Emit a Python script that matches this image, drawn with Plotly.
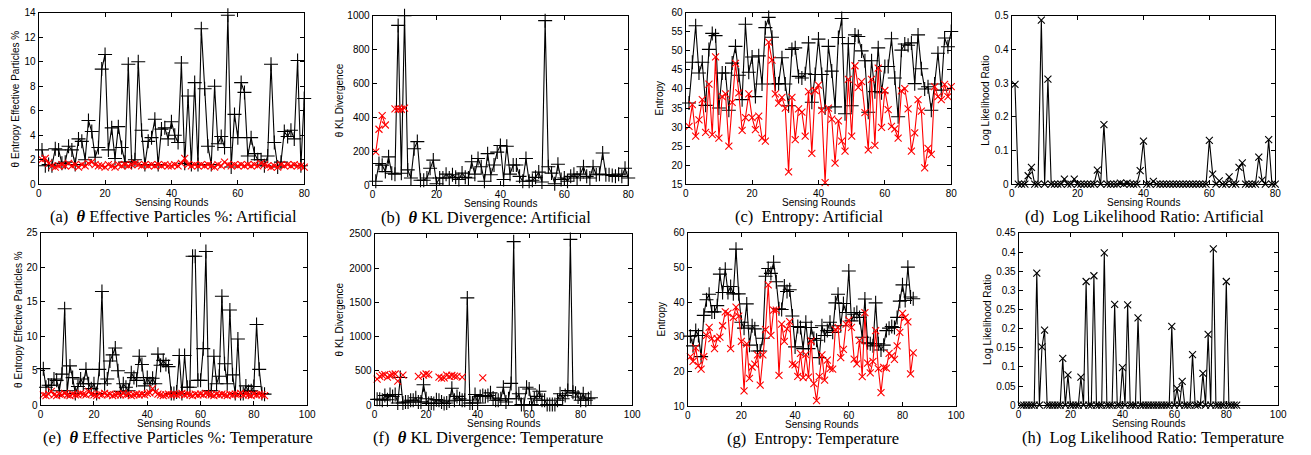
import plotly.graph_objects as go

# ---------------- data ----------------
rounds80 = list(range(1, 81))
rounds84 = list(range(1, 85))

eff_art_black = [2.8,1.5,1.6,1.5,2.9,2.8,1.7,1.8,3.1,2.8,
                 1.6,3.7,3.5,2.0,5.2,4.3,2.2,3.0,9.4,10.6,
                 2.8,4.6,2.1,4.7,3.0,1.8,9.8,1.8,2.0,10.0,
                 4.4,1.6,3.5,3.8,5.3,1.6,4.5,4.6,3.7,5.1,
                 4.0,3.4,9.9,1.7,7.2,1.6,8.3,1.6,12.7,7.8,
                 3.1,1.6,8.0,3.3,3.9,3.0,13.8,1.4,5.7,3.8,
                 8.3,7.5,2.3,3.8,2.5,2.0,2.0,1.5,2.3,9.8,
                 3.4,1.4,1.8,4.3,3.9,4.4,3.7,10.1,1.5,7.0]
eff_art_red = [2.0,2.1,1.7,1.5,1.4,1.5,1.6,1.5,1.7,1.5,
               1.6,1.4,1.6,1.5,1.7,1.8,1.6,1.5,1.5,1.4,
               1.6,1.5,1.4,1.6,1.5,1.6,1.5,1.6,1.7,1.6,
               1.5,1.6,1.5,1.6,1.5,1.6,1.5,1.6,1.5,1.5,
               1.6,1.5,1.7,2.1,1.6,1.5,1.6,1.5,1.6,1.5,
               1.6,1.5,1.4,1.6,1.5,1.8,1.6,1.5,1.6,1.5,
               1.6,1.5,1.6,1.5,1.6,1.5,1.7,1.6,1.5,1.4,
               1.5,1.4,1.6,1.5,1.6,1.5,1.6,1.5,1.5,1.4]

kl_art_black = [23,128,118,80,167,70,65,943,70,1000,
                90,42,215,257,29,29,42,100,148,8,
                42,42,65,42,61,46,33,71,46,42,
                138,65,157,109,23,186,61,119,195,234,
                33,230,65,119,119,52,23,157,23,29,
                46,77,19,971,109,71,8,123,33,42,
                23,52,65,42,65,109,52,42,109,61,
                65,190,61,61,57,52,65,52,100,42]
kl_art_red = [196,330,410,355,None,None,450,448,448,455] + [None] * 70

ent_art_black = [36.3,47.0,56.6,44.2,47.0,35.7,50.4,54.6,54.0,35.0,
                 44.2,44.2,34.4,46.8,51.2,43.6,37.2,57.0,44.4,48.4,
                 38.0,48.7,41.3,56.1,58.8,53.6,41.3,41.4,48.2,41.3,
                 35.6,50.4,50.8,43.3,42.9,44.0,52.1,36.5,43.8,53.1,
                 43.8,35.0,51.2,44.7,35.3,53.5,58.5,33.5,51.9,35.6,
                 54.2,53.8,50.0,47.4,33.9,47.4,39.3,50.8,39.0,45.9,
                 45.9,53.2,42.9,32.7,50.2,51.8,51.5,52.1,41.4,54.2,
                 45.3,40.0,40.6,34.4,41.3,49.4,39.7,53.4,51.1,55.1]
ent_art_red = [30.2,35.9,27.6,31.9,37.2,28.6,41.3,28.0,48.4,27.1,
               38.0,38.7,25.0,36.5,46.7,39.0,29.1,32.5,38.7,32.5,
               29.3,32.9,27.1,26.3,52.3,47.6,38.7,36.3,37.8,35.0,
               18.2,37.8,26.7,34.8,33.9,27.6,39.3,23.1,39.6,41.0,
               34.4,15.4,35.0,32.1,20.5,31.6,26.3,23.7,42.5,27.6,
               46.1,40.4,41.9,33.8,24.0,42.5,25.2,45.5,29.9,39.6,
               34.6,30.2,29.5,27.1,39.5,40.1,34.8,23.7,28.5,37.2,
               34.2,19.3,24.4,22.8,40.6,38.0,37.2,41.2,38.0,40.6]

llr_art = [0.296,0,0,0,0.025,0.05,0,0,0.487,0,
           0.312,0,0,0,0,0.015,0,0,0.015,0,
           0,0,0,0,0,0.042,0,0.177,0,0,
           0,0,0.003,0,0.003,0,0,0,0.04,0.128,
           0,0,0.008,0,0,0,0,0,0,0,
           0,0,0,0,0,0,0,0,0,0.13,
           0.03,0,0.01,0,0,0.022,0,0,0.05,0.063,
           0,0,0,0,0.08,0.012,0,0.132,0,0]

eff_tmp_black = [5.3,2.6,2.9,2.9,3.8,3.6,2.1,4.5,14.0,2.1,
                 5.7,4.0,1.7,2.7,3.8,3.1,5.2,3.1,2.4,3.1,
                 1.7,5.2,16.5,3.1,3.8,6.4,7.3,8.3,5.0,2.0,
                 3.1,2.6,2.1,4.7,4.0,3.6,7.1,5.9,2.8,4.0,
                 3.1,3.9,3.1,7.4,5.8,6.5,5.9,5.6,1.7,1.7,
                 1.9,7.2,1.7,7.2,2.6,2.6,21.6,21.6,3.6,3.6,
                 8.2,22.3,2.1,2.1,7.1,3.1,4.2,15.8,6.0,3.1,
                 13.8,4.4,1.7,9.6,1.7,1.7,2.8,2.0,2.1,2.7,
                 11.7,5.2,1.7,1.6]
eff_tmp_red = [1.5,1.4,1.6,2.0,1.5,1.4,1.6,1.5,1.7,1.5,
               1.4,1.6,1.5,1.5,1.7,1.6,1.5,2.0,1.6,1.5,
               1.4,1.6,1.5,1.7,1.5,1.6,1.4,1.5,1.6,1.5,
               1.7,1.5,1.6,1.4,1.5,1.6,1.5,1.6,1.5,1.7,
               1.8,2.4,1.9,1.6,1.5,1.4,1.5,1.6,1.5,1.6,
               1.5,1.6,1.7,1.5,1.6,1.5,1.4,1.6,1.5,1.6,
               1.5,1.7,1.6,1.5,1.4,1.6,1.5,1.6,1.5,1.4,
               1.6,1.5,1.6,1.5,1.7,1.5,1.6,1.5,1.4,1.6,
               1.5,1.6,1.5,1.4]

kl_tmp_black = [85,85,71,142,80,157,128,157,33,403,
                33,47,47,71,71,109,47,47,299,95,
                24,33,24,81,71,47,24,33,62,247,
                71,128,95,71,71,1565,33,33,157,33,
                128,142,128,142,180,104,71,71,95,261,
                47,95,318,2386,95,166,9,9,261,237,
                9,95,128,204,71,71,9,9,9,9,
                71,166,95,142,213,2419,190,175,119,71,
                166,71,95,109]
kl_tmp_red_rounds = [1,2,3,4,5,6,7,8,9,11,17,19,20,21,25,26,27,28,29,30,31,32,34,42]
kl_tmp_red = [380,420,440,445,410,430,450,455,350,440,420,440,455,445,
              410,395,400,440,420,435,425,420,410,400]

ent_tmp_black = [30.2,27.4,31.8,30.4,24.3,36.2,40.7,42.3,37.2,37.2,
                 39.0,48.1,42.8,49.5,42.8,44.5,42.4,55.3,42.4,34.2,
                 32.5,39.5,27.6,33.2,32.3,25.9,25.9,29.6,47.5,49.7,
                 48.3,51.5,45.9,38.1,37.9,44.7,43.1,43.6,36.0,27.1,
                 33.0,32.7,26.6,34.2,26.6,32.7,29.5,29.0,24.0,33.2,
                 30.4,31.8,34.2,31.3,39.8,42.3,33.2,39.6,37.0,49.0,
                 34.6,36.5,37.0,35.6,29.9,40.9,28.3,28.0,27.4,39.8,
                 28.0,26.2,27.6,31.8,32.5,33.0,32.7,35.6,40.3,45.0,
                 40.5,50.1,41.5,41.0]
ent_tmp_red = [24.3,22.9,26.8,21.7,20.7,24.3,30.4,32.7,29.5,26.6,
               29.5,29.9,33.2,37.2,36.8,26.6,35.6,38.6,36.0,28.7,
               14.4,28.0,18.0,21.3,22.1,24.8,16.1,24.8,32.1,45.0,
               30.4,37.7,37.7,18.9,33.7,28.7,32.3,34.4,22.1,21.9,
               18.6,25.2,18.2,24.9,18.4,28.8,16.5,11.6,18.5,24.8,
               17.5,23.3,20.8,20.7,32.1,32.7,24.0,26.4,33.7,34.8,
               32.7,23.6,22.2,29.0,18.5,37.0,22.4,19.6,22.9,31.8,
               20.8,13.9,21.2,21.0,25.2,24.5,23.5,27.4,31.3,36.8,
               35.6,34.3,19.3,25.4]

llr_tmp = [0,0,0,0,0,0,0.345,0,0.152,0.196,
           0,0,0,0,0,0,0.122,0,0.079,0,
           0,0,0,0.073,0,0.323,0,0,0.338,0,
           0,0,0.398,0,0,0,0.263,0,0,0.098,
           0,0.262,0,0,0,0.228,0,0,0,0,
           0,0,0,0,0,0,0,0,0.206,0,
           0.044,0,0.062,0,0,0,0.132,0,0,0.003,
           0.083,0,0.185,0,0.408,0,0,0,0,0.323,
           0,0,0,0]

captions = ["(a)", "(b)", "(c)", "(d)", "(e)", "(f)", "(g)", "(h)"]
caption_texts = [
    "<b><i>θ</i></b> Effective Particles %: Artificial",
    "<b><i>θ</i></b> KL Divergence: Artificial",
    "Entropy: Artificial",
    "Log Likelihood Ratio: Artificial",
    "<b><i>θ</i></b> Effective Particles %: Temperature",
    "<b><i>θ</i></b> KL Divergence: Temperature",
    "Entropy: Temperature",
    "Log Likelihood Ratio: Temperature",
]
ytitles = ["θ Entropy Effective Particles %", "θ KL Divergence", "Entropy", "Log Likelihood Ratio",
           "θ Entropy Effective Particles %", "θ KL Divergence", "Entropy", "Log Likelihood Ratio"]
xtitle = "Sensing Rounds"

# ---------------- layout helpers ----------------
W, H = 1311, 455
# pixel boxes: (left, right, top, bottom)
boxes = [
    (36, 304, 7, 183), (373, 631, 10, 184), (689, 957, 7, 183), (1018, 1284, 10, 183),
    (38, 307, 233, 410), (375, 635, 234, 410), (691, 962, 233, 411), (1025, 1287, 233, 410),
]
xranges = [[0, 80]] * 4 + [[0, 100]] * 4
yranges = [[0, 14], [0, 1000], [15, 60], [0, 0.5], [0, 25], [0, 2500], [10, 60], [0, 0.45]]
ydticks = [2, 200, 5, 0.1, 5, 500, 10, 0.05]
ytitle_px = [13, 340, 663, 992, 15, 340, 665, 993]
caption_cx = [172, 487, 813, 1152, 177, 489, 817, 1161]

BLACK = "black"
RED = "red"
SANS = "Liberation Sans, Arial, sans-serif"
tickfont = dict(family=SANS, size=10, color="black")

fig = go.Figure()

def add_line(i, x, y, color, symbol, size, mode="lines+markers"):
    ax = "" if i == 0 else str(i + 1)
    fig.add_trace(go.Scatter(
        x=x, y=y, mode=mode, xaxis="x" + ax, yaxis="y" + ax,
        line=dict(color=color, width=1.1),
        marker=dict(symbol=symbol, size=size, color=color, line=dict(color=color, width=1.1)),
        cliponaxis=False, showlegend=False, connectgaps=False))

PLUS, CROSS = "cross-thin-open", "x-thin-open"
# (a)
add_line(0, rounds80, eff_art_black, BLACK, PLUS, 10)
add_line(0, rounds80, eff_art_red, RED, CROSS, 7)
# (b)
add_line(1, rounds80, kl_art_black, BLACK, PLUS, 10)
add_line(1, rounds80, kl_art_red, RED, CROSS, 7)
# (c)
add_line(2, rounds80, ent_art_black, BLACK, PLUS, 10)
add_line(2, rounds80, ent_art_red, RED, CROSS, 7)
# (d)
add_line(3, rounds80, llr_art, BLACK, CROSS, 7)
# (e)
add_line(4, rounds84, eff_tmp_black, BLACK, PLUS, 10)
add_line(4, rounds84, eff_tmp_red, RED, CROSS, 7)
# (f)
add_line(5, rounds84, kl_tmp_black, BLACK, PLUS, 10)
add_line(5, kl_tmp_red_rounds, kl_tmp_red, RED, CROSS, 7, mode="markers")
# (g)
add_line(6, rounds84, ent_tmp_black, BLACK, PLUS, 10)
add_line(6, rounds84, ent_tmp_red, RED, CROSS, 7)
# (h)
add_line(7, rounds84, llr_tmp, BLACK, CROSS, 7)

layout = dict(width=W, height=H, margin=dict(l=0, r=0, t=0, b=0),
              paper_bgcolor="white", plot_bgcolor="white", showlegend=False)
annotations = []
for i, (l, r, t, b) in enumerate(boxes):
    ax = "" if i == 0 else str(i + 1)
    common = dict(showline=True, linecolor="black", linewidth=1, mirror="ticks",
                  ticks="inside", ticklen=4, tickcolor="black", showgrid=False,
                  zeroline=False, tickfont=tickfont)
    layout["xaxis" + ax] = dict(domain=[l / W, r / W], range=xranges[i], anchor="y" + ax,
                                tick0=0, dtick=20, ticklabelstandoff=0, **common)
    ytf = "d" if ydticks[i] >= 1 else ""
    layout["yaxis" + ax] = dict(domain=[1 - b / H, 1 - t / H], range=yranges[i], anchor="x" + ax,
                                tick0=0, dtick=ydticks[i], tickformat=ytf, **common)
    # x title
    annotations.append(dict(text=xtitle, xref="paper", yref="paper",
                            x=(l + r) / 2 / W, y=1 - (b + 18.5) / H, xanchor="center", yanchor="middle",
                            borderpad=0, showarrow=False, font=dict(family=SANS, size=10, color="black")))
    # y title
    annotations.append(dict(text=ytitles[i], xref="paper", yref="paper", textangle=-90,
                            x=ytitle_px[i] / W, y=1 - (t + b) / 2 / H, xanchor="center", yanchor="middle",
                            showarrow=False, font=dict(family=SANS, size=10, color="black")))
    # caption
    annotations.append(dict(text=captions[i] + "  " + caption_texts[i], xref="paper", yref="paper",
                            x=caption_cx[i] / W, y=1 - (b + 33) / H, xanchor="center", yanchor="middle",
                            borderpad=0, showarrow=False,
                            font=dict(family="Liberation Serif, Times New Roman, serif", size=16.5, color="black")))
layout["annotations"] = annotations
fig.update_layout(**layout)
fig.write_html("out.html", config={"displayModeBar": False},
               post_script="document.body.style.margin='0';document.body.style.overflow='hidden';")
